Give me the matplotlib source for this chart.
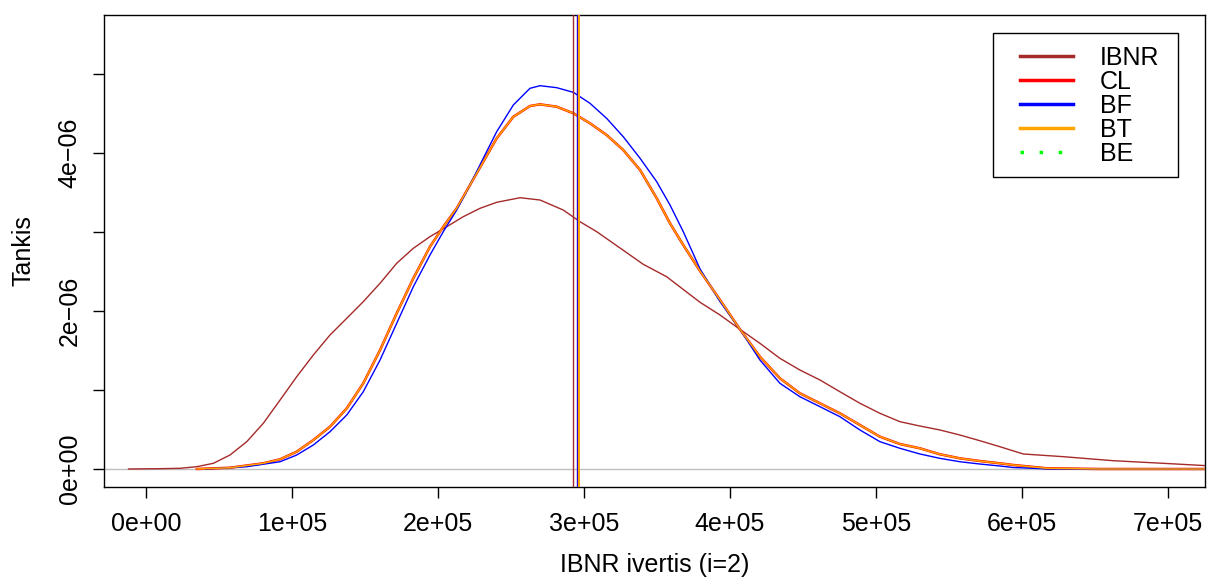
import matplotlib
matplotlib.use("Agg")
import matplotlib.pyplot as plt
from matplotlib.patches import Rectangle

plt.rcParams["font.family"] = ["Liberation Sans", "DejaVu Sans"]

# density curves: x in thousands, y in 1e-6
ibnr_x = [-12.1, 9.6, 23.3, 34.7, 46.1, 57.5, 69.0, 80.3, 91.8, 103.2, 114.6, 126.0,
          137.5, 148.8, 160.3, 171.7, 183.1, 194.5, 206.0, 217.3, 228.8, 240.2,
          256.2, 269.9, 285.8, 297.3, 308.7, 320.1, 331.5, 340.6, 356.6, 379.5,
          393.2, 406.8, 420.5, 434.2, 447.9, 461.6, 475.3, 489.0, 502.7, 516.4,
          530.1, 543.8, 557.5, 571.2, 584.9, 600.9, 628.3, 662.5, 696.8, 726.5, 760.0]
ibnr_y = [0.0, 0.004, 0.009, 0.029, 0.072, 0.177, 0.346, 0.578, 0.873, 1.168, 1.443, 1.696,
          1.908, 2.118, 2.351, 2.604, 2.794, 2.941, 3.067, 3.194, 3.300, 3.376,
          3.434, 3.405, 3.278, 3.130, 3.004, 2.857, 2.709, 2.591, 2.434, 2.110,
          1.949, 1.768, 1.591, 1.401, 1.253, 1.127, 0.978, 0.832, 0.705, 0.599,
          0.544, 0.494, 0.430, 0.358, 0.282, 0.190, 0.156, 0.105, 0.072, 0.042, 0.02]

bt_x = [34.7, 57.5, 80.3, 91.8, 103.2, 114.6, 126.0, 137.5, 148.8, 160.3, 171.7, 183.1,
        194.5, 203.6, 212.8, 221.9, 231.0, 240.2, 251.6, 263.0, 269.9, 281.3, 292.7,
        304.1, 315.5, 326.9, 338.4, 349.8, 358.9, 368.0, 379.5, 393.2, 406.8, 420.5,
        434.2, 447.9, 461.6, 475.3, 489.0, 502.7, 516.4, 530.1, 543.8, 557.5, 571.2,
        584.9, 594.0, 616.9, 653.4, 726.7]
bt_y = [0.0, 0.016, 0.072, 0.123, 0.219, 0.367, 0.535, 0.768, 1.085, 1.506, 1.971, 2.414,
        2.814, 3.067, 3.300, 3.595, 3.890, 4.186, 4.459, 4.595, 4.616, 4.586, 4.503,
        4.376, 4.228, 4.038, 3.785, 3.427, 3.110, 2.835, 2.506, 2.139, 1.768, 1.422,
        1.148, 0.958, 0.832, 0.705, 0.557, 0.409, 0.316, 0.262, 0.186, 0.135, 0.101,
        0.072, 0.051, 0.009, 0.0, 0.0]

bf_x = [40.4, 69.0, 91.8, 103.2, 114.6, 126.0, 137.5, 148.8, 160.3, 171.7, 183.1, 194.5,
        203.6, 212.8, 221.9, 231.0, 240.2, 251.6, 263.0, 269.9, 281.3, 292.7, 304.1,
        315.5, 326.9, 338.4, 349.8, 358.9, 368.0, 379.5, 393.2, 406.8, 420.5, 434.2,
        447.9, 461.6, 475.3, 489.0, 502.7, 516.4, 530.1, 543.8, 557.5, 571.2, 584.9,
        594.0, 619.2, 726.7]
bf_y = [0.0, 0.029, 0.092, 0.177, 0.304, 0.472, 0.684, 0.978, 1.380, 1.844, 2.308, 2.709,
        3.004, 3.278, 3.595, 3.933, 4.270, 4.608, 4.819, 4.852, 4.827, 4.768, 4.629,
        4.439, 4.206, 3.933, 3.637, 3.342, 3.004, 2.532, 2.118, 1.768, 1.380, 1.085,
        0.915, 0.789, 0.662, 0.494, 0.346, 0.262, 0.190, 0.135, 0.092, 0.063, 0.038,
        0.019, 0.0, 0.0]

# means (vertical lines), in thousands
mean_ibnr = 292.8
mean_bf = 294.9
mean_cl = 296.2
mean_bt = 296.6

xticks = [0, 100, 200, 300, 400, 500, 600, 700]
xlabels = ["0e+00", "1e+05", "2e+05", "3e+05", "4e+05", "5e+05", "6e+05", "7e+05"]
yticks = [0, 1, 2, 3, 4, 5]
ylabels = ["0e+00", "", "2e\u221206", "", "4e\u221206", ""]
legend_labels = ["IBNR", "CL", "BF", "BT", "BE"]

BROWN = "#A52A2A"
ORANGE = "#FFA500"
GREEN = "#00FF00"
FS = 18


def kx(v):
    return [a * 1e3 for a in v]


def my(v):
    return [a * 1e-6 for a in v]


fig = plt.figure(figsize=(12.07, 5.79), dpi=100)
ax = fig.add_axes([0.0862, 0.1589, 0.9121, 0.8152])

line_kw = dict(solid_joinstyle="round", solid_capstyle="round")
ax.axhline(0, color="#BEBEBE", lw=1.0, zorder=1)
ax.plot(kx(bt_x), my(bt_y), color=GREEN, lw=1.2, ls=":", zorder=2)
ax.plot(kx(ibnr_x), my(ibnr_y), color=BROWN, lw=1.0, zorder=3, **line_kw)
ax.plot(kx(bt_x), my(bt_y), color="red", lw=1.8, zorder=3, **line_kw)
ax.plot(kx(bf_x), my(bf_y), color="blue", lw=1.0, zorder=3, **line_kw)
ax.plot(kx(bt_x), my(bt_y), color=ORANGE, lw=1.1, zorder=4, **line_kw)

ax.axvline(mean_ibnr * 1e3, color=BROWN, lw=1.0, zorder=5)
ax.axvline(mean_bf * 1e3, color="blue", lw=1.0, zorder=5)
ax.axvline(mean_cl * 1e3, color="red", lw=1.0, zorder=5)
ax.axvline(mean_bt * 1e3, color=ORANGE, lw=1.4, zorder=5)

ax.set_xlim(-28767, 725342)
ax.set_ylim(-0.2278e-6, 5.747e-6)
ax.set_xticks(kx(xticks))
ax.set_xticklabels(xlabels)
ax.set_yticks(my(yticks))
ax.set_yticklabels(ylabels, rotation=90, va="center")
ax.tick_params(axis="both", length=8, width=1, labelsize=FS, direction="out")
ax.tick_params(axis="x", pad=10)
ax.tick_params(axis="y", pad=8)
for s in ax.spines.values():
    s.set_linewidth(1.0)

ax.set_xlabel("IBNR ivertis (i=2)", fontsize=FS, labelpad=12)
ax.set_ylabel("Tankis", fontsize=FS, labelpad=16)

# legend box drawn R-style with wide inner padding
ax.add_patch(Rectangle((0.8074, 0.6568), 0.1681, 0.3051, transform=ax.transAxes,
                       fill=True, facecolor="white", edgecolor="black", lw=1.0,
                       zorder=6))
handles = [
    plt.Line2D([], [], color=BROWN, lw=2.5),
    plt.Line2D([], [], color="red", lw=2.5),
    plt.Line2D([], [], color="blue", lw=2.5),
    plt.Line2D([], [], color=ORANGE, lw=2.5),
    plt.Line2D([], [], color=GREEN, lw=2.5, ls=(0, (1, 4.5))),
]
leg = ax.legend(handles, legend_labels, loc="upper left",
                bbox_to_anchor=(0.8320, 0.9343), fontsize=FS, frameon=False,
                handlelength=2.12, handletextpad=1.08, labelspacing=0.0,
                borderpad=0, borderaxespad=0)
leg.set_zorder(7)

fig.savefig("out.png", dpi=100)
